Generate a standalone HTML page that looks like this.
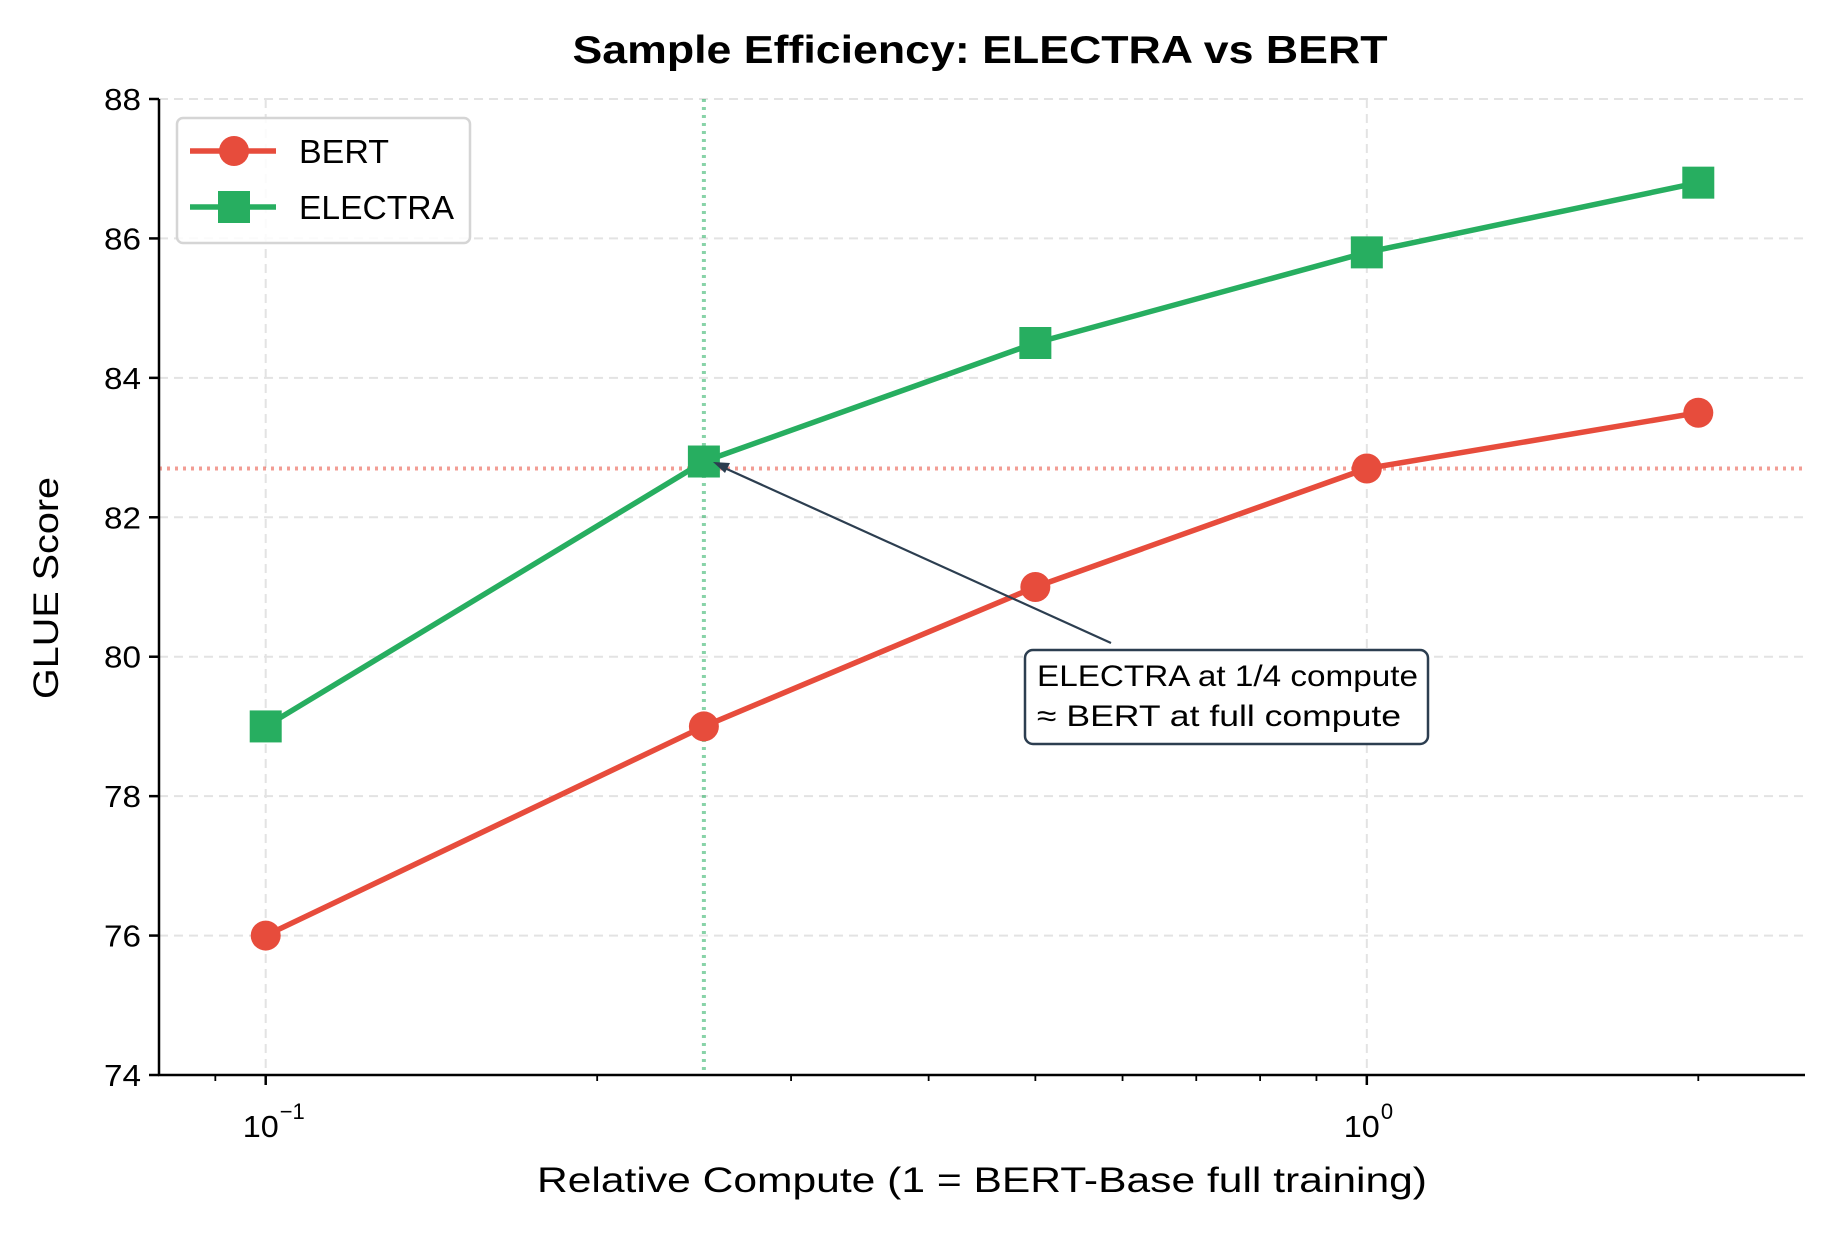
<!DOCTYPE html>
<html><head><meta charset="utf-8"><style>
html,body{margin:0;padding:0;background:#fff;}
svg{display:block;font-family:"Liberation Sans",sans-serif;}
</style></head><body>
<svg id="chart" width="1834" height="1234" viewBox="0 0 1834 1234"></svg>
<script>
const categories=[0.1,0.25,0.5,1,2];
const bertValues=[76,79,81,82.7,83.5];
const electraValues=[79,82.8,84.5,85.8,86.8];
const yTicks=[74,76,78,80,82,84,86,88];
const xMajorTicks=[0.1,1];
const xMajorLabels=["10","10"];
const xMajorExps=["−1","0"];
const xMinorTicks=[0.09,0.2,0.3,0.4,0.5,0.6,0.7,0.8,0.9,2];
const refY=82.7, refX=0.25;

const NS="http://www.w3.org/2000/svg";
const svg=document.getElementById('chart');
const L=159,R=1805,T=99,B=1075;
const xmin=Math.log10(0.08),xmax=Math.log10(2.5);
function X(v){return L+(Math.log10(v)-xmin)/(xmax-xmin)*(R-L);}
function Y(v){return B-(v-74)/(88-74)*(B-T);}
function el(tag,attrs,parent){const e=document.createElementNS(NS,tag);for(const k in attrs)e.setAttribute(k,attrs[k]);(parent||svg).appendChild(e);return e;}

yTicks.forEach(v=>{
  const g=el('line',{x1:L,x2:R,y1:Y(v),y2:Y(v),stroke:'#e3e3e3','stroke-width':2,'stroke-dasharray':'9,6'});
  
  
});
xMajorTicks.forEach(v=>{
  const g=el('line',{x1:X(v),x2:X(v),y1:T,y2:B,stroke:'#e3e3e3','stroke-width':2,'stroke-dasharray':'9,6'});
  
  
});
const rh=el('line',{x1:L,x2:R,y1:Y(refY),y2:Y(refY),stroke:'#e74c3c','stroke-opacity':0.55,'stroke-width':4,'stroke-dasharray':'3,5'});


const rv=el('line',{x1:X(refX),x2:X(refX),y1:T,y2:B,stroke:'#27ae60','stroke-opacity':0.55,'stroke-width':4,'stroke-dasharray':'3,5'});



function series(vals,color,name,shape){
  const pts=categories.map((c,i)=>X(c)+','+Y(vals[i])).join(' ');
  const pl=el('polyline',{points:pts,fill:'none',stroke:color,'stroke-width':5.5,'stroke-linejoin':'round'});
  
  
  categories.forEach((c,i)=>{
    let m;
    if(shape==='circle') m=el('circle',{cx:X(c),cy:Y(vals[i]),r:15,fill:color});
    else m=el('rect',{x:X(c)-16,y:Y(vals[i])-16,width:32,height:32,fill:color});
    
    
  });
}
series(bertValues,'#e74c3c','bert','circle');
series(electraValues,'#27ae60','electra','square');

const ax=el('line',{x1:L,x2:L,y1:T,y2:B+1,stroke:'#000','stroke-width':2.5});


const bx=el('line',{x1:L-1,x2:R,y1:B,y2:B,stroke:'#000','stroke-width':2.5});


yTicks.forEach(v=>{
  el('line',{x1:L-10,x2:L,y1:Y(v),y2:Y(v),stroke:'#000','stroke-width':2.5});
  const t=el('text',{x:L-18,y:Y(v)+11,'text-anchor':'end','font-size':31,fill:'#000',textLength:37,lengthAdjust:'spacingAndGlyphs'});
  t.textContent=v;
  
  
});
xMajorTicks.forEach((v,i)=>{
  el('line',{x1:X(v),x2:X(v),y1:B,y2:B+10,stroke:'#000','stroke-width':2.5});
  const t=el('text',{x:X(v)-5,y:B+62,'text-anchor':'middle','font-size':31,fill:'#000',textLength:36,lengthAdjust:'spacingAndGlyphs'});
  t.textContent=xMajorLabels[i];
  
  
  const s=el('text',{x:X(v)+14,y:B+44,'font-size':22,fill:'#000'});
  s.textContent=xMajorExps[i];
  
  
});
xMinorTicks.forEach(v=>{
  el('line',{x1:X(v),x2:X(v),y1:B,y2:B+6,stroke:'#000','stroke-width':1.8});
});

const title=el('text',{x:980,y:63,'text-anchor':'middle','font-size':39,'font-weight':'bold',fill:'#000',textLength:815,lengthAdjust:'spacingAndGlyphs'});
title.textContent='Sample Efficiency: ELECTRA vs BERT';


const xl=el('text',{x:982,y:1192,'text-anchor':'middle','font-size':35,fill:'#000',textLength:890,lengthAdjust:'spacingAndGlyphs'});
xl.textContent='Relative Compute (1 = BERT-Base full training)';


const yl=el('text',{x:58,y:588,'text-anchor':'middle','font-size':35,fill:'#000',textLength:222,lengthAdjust:'spacingAndGlyphs',transform:'rotate(-90 58 588)'});
yl.textContent='GLUE Score';



const lg=el('g',{});


el('rect',{x:177,y:118,width:293,height:125,rx:6,fill:'#fff','fill-opacity':0.85,stroke:'#d5d5d5','stroke-width':2.5},lg);
el('line',{x1:190,x2:276,y1:151,y2:151,stroke:'#e74c3c','stroke-width':5.5},lg);
el('circle',{cx:234,cy:151,r:15,fill:'#e74c3c'},lg);
const lt1=el('text',{x:299,y:163,'font-size':33,fill:'#000',textLength:90,lengthAdjust:'spacingAndGlyphs'},lg);
lt1.textContent='BERT';


el('line',{x1:190,x2:276,y1:207,y2:207,stroke:'#27ae60','stroke-width':5.5},lg);
el('rect',{x:218,y:191,width:32,height:32,fill:'#27ae60'},lg);
const lt2=el('text',{x:299,y:219,'font-size':33,fill:'#000',textLength:155,lengthAdjust:'spacingAndGlyphs'},lg);
lt2.textContent='ELECTRA';



const an=el('g',{});


el('line',{x1:1111,y1:643,x2:718,y2:465,stroke:'#2c3e50','stroke-width':2.2},an);
el('polygon',{points:'713,462 730,463 725,473',fill:'#2c3e50'},an);
el('rect',{x:1025,y:650,width:403,height:94,rx:8,fill:'#fff',stroke:'#2c3e50','stroke-width':2.5},an);
const a1=el('text',{x:1037,y:686,'font-size':30,fill:'#000',textLength:381,lengthAdjust:'spacingAndGlyphs'},an);
a1.textContent='ELECTRA at 1/4 compute';


const a2=el('text',{x:1037,y:726,'font-size':30,fill:'#000',textLength:364,lengthAdjust:'spacingAndGlyphs'},an);
a2.textContent='≈ BERT at full compute';


</script>
</body></html>
